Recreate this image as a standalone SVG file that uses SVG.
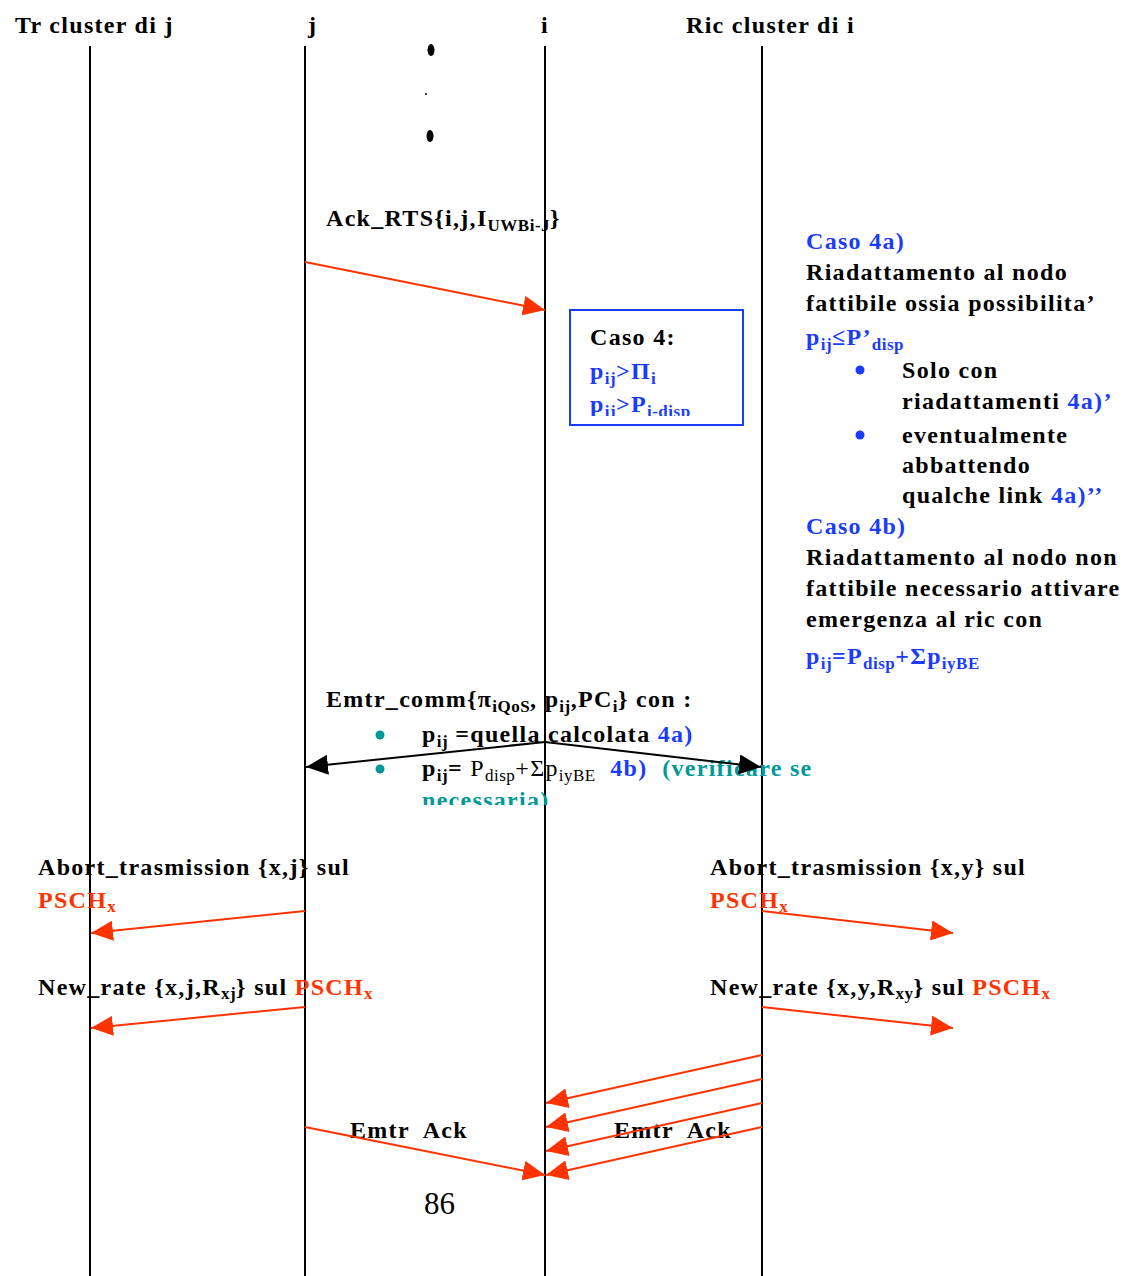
<svg xmlns="http://www.w3.org/2000/svg" width="1130" height="1276" viewBox="0 0 1130 1276">
<style>
text{font-family:"Liberation Serif","Times New Roman",serif;font-weight:bold;font-size:24px;letter-spacing:1.3px;fill:#000;white-space:pre}
.b{fill:#1a3cff}
.r{fill:#ff3300}
.t{fill:#009999}
.n{font-weight:normal}
.s{font-size:17px;letter-spacing:0.5px}
.life{stroke:#000;stroke-width:2;fill:none}
.ra{stroke:#ff3300;stroke-width:2;fill:none;marker-end:url(#ar)}
.ka{stroke:#000;stroke-width:2;fill:none;marker-end:url(#ak)}
</style>
<defs>
<marker id="ar" markerUnits="userSpaceOnUse" markerWidth="24" markerHeight="20" refX="22" refY="10" orient="auto">
<path d="M0,0 L22,10 L0,20 z" fill="#ff3300"/>
</marker>
<marker id="ak" markerUnits="userSpaceOnUse" markerWidth="24" markerHeight="20" refX="22" refY="10" orient="auto">
<path d="M0,0 L22,10 L0,20 z" fill="#000"/>
</marker>
<clipPath id="boxclip"><rect x="570" y="310" width="173" height="106"/></clipPath>
<clipPath id="emclip"><rect x="300" y="680" width="560" height="125"/></clipPath>
</defs>
<rect width="1130" height="1276" fill="#fff"/>

<g id="lifeline-tr-cluster-j">
<text x="15" y="33">Tr cluster di j</text>
<line class="life" x1="90" y1="46" x2="90" y2="1276"/>
</g>
<g id="lifeline-j">
<text x="308" y="33">j</text>
<line class="life" x1="305" y1="46" x2="305" y2="1276"/>
</g>
<g id="lifeline-i">
<text x="541" y="33">i</text>
<line class="life" x1="545" y1="46" x2="545" y2="1276"/>
</g>
<g id="lifeline-ric-cluster-i">
<text x="686" y="33">Ric cluster di i</text>
<line class="life" x1="762" y1="46" x2="762" y2="1276"/>
</g>

<g id="dots">
<ellipse cx="431" cy="50" rx="3.5" ry="6" fill="#000"/>
<circle cx="426" cy="94" r="1" fill="#000"/>
<ellipse cx="430" cy="136" rx="3.5" ry="6" fill="#000"/>
</g>

<g id="label-ack-rts">
<text x="326" y="226">Ack_RTS{i,j,I<tspan class="s" dy="5">UWBi-J</tspan><tspan dy="-5">}</tspan></text>
</g>

<g id="box-caso4">
<rect x="570" y="310" width="173" height="115" fill="none" stroke="#1a3cff" stroke-width="2"/>
<g clip-path="url(#boxclip)">
<text x="590" y="345">Caso 4:</text>
<text x="590" y="379" class="b">p<tspan class="s" dy="5">ij</tspan><tspan dy="-5">&gt;Π</tspan><tspan class="s" dy="5">i</tspan></text>
<text x="590" y="412" class="b">p<tspan class="s" dy="5">ij</tspan><tspan dy="-5">&gt;P</tspan><tspan class="s" dy="5">i-disp</tspan></text>
</g>
</g>

<g id="note-caso4a">
<text x="806" y="249" class="b">Caso 4a)</text>
<text x="806" y="280">Riadattamento al nodo</text>
<text x="806" y="311">fattibile ossia possibilita’</text>
<text x="806" y="345" class="b">p<tspan class="s" dy="5">ij</tspan><tspan dy="-5">≤P’</tspan><tspan class="s" dy="5">disp</tspan></text>
<circle cx="860" cy="370" r="4.5" fill="#1a3cff"/>
<text x="902" y="378">Solo con</text>
<text x="902" y="409">riadattamenti <tspan class="b">4a)’</tspan></text>
<circle cx="860" cy="435" r="4.5" fill="#1a3cff"/>
<text x="902" y="443">eventualmente</text>
<text x="902" y="473">abbattendo</text>
<text x="902" y="503">qualche link <tspan class="b">4a)’’</tspan></text>
</g>

<g id="note-caso4b">
<text x="806" y="534" class="b">Caso 4b)</text>
<text x="806" y="565">Riadattamento al nodo non</text>
<text x="806" y="596">fattibile necessario attivare</text>
<text x="806" y="627">emergenza al ric con</text>
<text x="806" y="664" class="b">p<tspan class="s" dy="5">ij</tspan><tspan dy="-5">=P</tspan><tspan class="s" dy="5">disp</tspan><tspan dy="-5">+Σp</tspan><tspan class="s" dy="5">iyBE</tspan></text>
</g>

<g id="label-emtr-comm" clip-path="url(#emclip)">
<text x="326" y="707">Emtr_comm{π<tspan class="s" dy="5">iQoS</tspan><tspan dy="-5">, p</tspan><tspan class="s" dy="5">ij</tspan><tspan dy="-5">,PC</tspan><tspan class="s" dy="5">i</tspan><tspan dy="-5">} con :</tspan></text>
<circle cx="380" cy="735" r="4.5" fill="#009999"/>
<text x="422" y="742">p<tspan class="s" dy="5">ij</tspan><tspan dy="-5"> =quella calcolata </tspan><tspan class="b">4a)</tspan></text>
<circle cx="380" cy="769" r="4.5" fill="#009999"/>
<text x="422" y="776">p<tspan class="s" dy="5">ij</tspan><tspan dy="-5">= </tspan><tspan class="n">P</tspan><tspan class="n s" dy="5">disp</tspan><tspan class="n" dy="-5">+Σp</tspan><tspan class="n s" dy="5">iyBE</tspan><tspan dy="-5">  </tspan><tspan class="b">4b)</tspan><tspan>  </tspan><tspan class="t">(verificare se</tspan></text>
<text x="422" y="808" class="t">necessaria)</text>
</g>

<g id="labels-abort-newrate">
<text x="38" y="875">Abort_trasmission {x,j} sul</text>
<text x="38" y="908" class="r">PSCH<tspan class="s" dy="4">x</tspan></text>
<text x="38" y="995">New_rate {x,j,R<tspan class="s" dy="4">xj</tspan><tspan dy="-4">} sul </tspan><tspan class="r">PSCH</tspan><tspan class="r s" dy="4">x</tspan></text>
<text x="710" y="875">Abort_trasmission {x,y} sul</text>
<text x="710" y="908" class="r">PSCH<tspan class="s" dy="4">x</tspan></text>
<text x="710" y="995">New_rate {x,y,R<tspan class="s" dy="4">xy</tspan><tspan dy="-4">} sul </tspan><tspan class="r">PSCH</tspan><tspan class="r s" dy="4">x</tspan></text>
</g>

<g id="labels-emtr-ack">
<text x="350" y="1138">Emtr  Ack</text>
<text x="614" y="1138">Emtr  Ack</text>
</g>

<g id="page-number">
<text x="424" y="1214" class="n" style="font-size:31px;letter-spacing:0">86</text>
</g>

<g id="connectors">
<line class="ra" x1="305" y1="262" x2="545" y2="310"/>
<line class="ka" x1="545" y1="742" x2="306" y2="767"/>
<line class="ka" x1="545" y1="742" x2="761" y2="767"/>
<line class="ra" x1="305" y1="911" x2="91" y2="933"/>
<line class="ra" x1="305" y1="1007" x2="91" y2="1028"/>
<line class="ra" x1="762" y1="911" x2="953" y2="933"/>
<line class="ra" x1="762" y1="1007" x2="953" y2="1028"/>
<line class="ra" x1="762" y1="1055" x2="546" y2="1103"/>
<line class="ra" x1="762" y1="1079" x2="546" y2="1127"/>
<line class="ra" x1="762" y1="1103" x2="546" y2="1151"/>
<line class="ra" x1="762" y1="1127" x2="546" y2="1175"/>
<line class="ra" x1="305" y1="1127" x2="545" y2="1175"/>
</g>
</svg>
